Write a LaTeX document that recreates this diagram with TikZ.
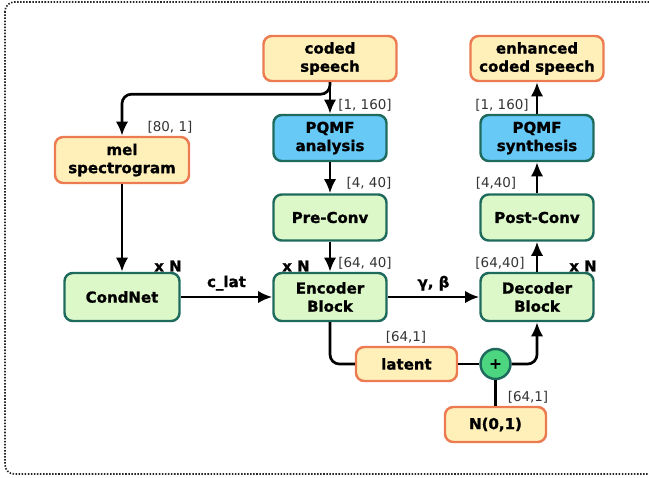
\documentclass[tikz,border=0pt]{standalone}
\usepackage{fontspec}
\setmainfont{DejaVu Sans}[BoldFeatures={FakeBold=1.2}]
\usetikzlibrary{arrows.meta, positioning}
\definecolor{boxyellow}{HTML}{FFF0BA}
\definecolor{boxorange}{HTML}{EC7B52}
\definecolor{boxblue}{HTML}{66C9F6}
\definecolor{boxgreen}{HTML}{DCF8C8}
\definecolor{boxteal}{HTML}{1E6B5E}
\definecolor{plusgreen}{HTML}{4CD680}
\definecolor{dimgray}{HTML}{333333}
\tikzstyle{base} = [rectangle, rounded corners=7pt, line width=2.1pt, align=center,
font=\fontsize{12.8}{15.5}\selectfont\bfseries]
\tikzstyle{data} = [base, draw=boxorange, fill=boxyellow]
\tikzstyle{pqmf} = [base, draw=boxteal, fill=boxblue, minimum width=3.39cm, minimum height=1.38cm]
\tikzstyle{block} = [base, draw=boxteal, fill=boxgreen, minimum width=3.39cm, minimum height=1.38cm]
\tikzstyle{dim} = [text=dimgray, font=\fontsize{11.5}{13}\selectfont]
\tikzstyle{tag} = [font=\fontsize{12.8}{15.5}\selectfont\bfseries]
\tikzstyle{arrow} = [-{Latex[length=12pt,width=10.5pt]}, line width=2.3pt]
\tikzstyle{line} = [line width=2.3pt]

\begin{document}
\begin{tikzpicture}[x=0.03cm, y=-0.03cm]

		% canvas and dotted frame
		\useasboundingbox (0,0) rectangle (649,477);
		\draw[black!85, line width=1.4pt, dash pattern=on 1.3pt off 1.3pt, rounded corners=8pt] (5,2) rectangle (664,474);

		% input / output nodes
		\node[data, minimum width=3.99cm, minimum height=1.35cm] (coded) at (330, 58.5) {coded\\speech};
		\node[data, minimum width=3.99cm, minimum height=1.35cm] (enhanced) at (537, 58.5) {enhanced\\coded speech};
		\node[data, minimum width=4.02cm, minimum height=1.38cm] (mel) at (122, 160) {mel\\spectrogram};

		% PQMF nodes
		\node[pqmf] (analysis) at (330, 138) {PQMF\\analysis};
		\node[pqmf] (synthesis) at (537, 138) {PQMF\\synthesis};

		% conv and block nodes
		\node[block] (preconv) at (330, 217.5) {Pre-Conv};
		\node[block] (postconv) at (537, 217.5) {Post-Conv};
		\node[block, minimum width=3.45cm, minimum height=1.44cm] (condnet) at (122, 297) {CondNet};
		\node[block, minimum height=1.44cm] (encoder) at (330, 297) {Encoder\\Block};
		\node[block, minimum height=1.44cm] (decoder) at (537, 297) {Decoder\\Block};

		% latent path
		\node[data, minimum width=3.03cm, minimum height=1.02cm] (latent) at (406.5, 364) {latent};
		\node[circle, draw=boxteal, fill=plusgreen, line width=2.1pt, minimum size=0.9cm, inner sep=0pt, font=\fontsize{12.8}{15.5}\selectfont\bfseries] (plus) at (495.5, 364) {+};
		\node[data, minimum width=3.03cm, minimum height=1.05cm] (noise) at (495.5, 424.5) {N(0,1)};

		% shape labels
		\node[dim] (d1) at (170, 127) {[80, 1]};
		\node[dim] (d2) at (365, 105) {[1, 160]};
		\node[dim] (d3) at (369, 183) {[4, 40]};
		\node[dim] (d4) at (365, 263) {[64, 40]};
		\node[dim] (d5) at (502, 105) {[1, 160]};
		\node[dim] (d6) at (496, 183) {[4,40]};
		\node[dim] (d7) at (500, 263) {[64,40]};
		\node[dim] (d8) at (406, 337) {[64,1]};
		\node[dim] (d9) at (528, 397) {[64,1]};

		% repeat labels
		\node[tag] (n1) at (168, 266) {x N};
		\node[tag] (n2) at (296, 266) {x N};
		\node[tag] (n3) at (583, 266) {x N};

		% connections
		\draw[arrow] (coded) -- (analysis);
		\draw[arrow, rounded corners=8pt] (coded.south) -- ++(0,12) -| (mel.north);
		\draw[arrow] (mel) -- (condnet);
		\draw[arrow] (analysis) -- (preconv);
		\draw[arrow] (preconv) -- (encoder);
		\draw[arrow] (condnet) -- node[tag, above, yshift=1pt] {c\_lat} (encoder);
		\draw[arrow] (encoder) -- node[tag, above, yshift=1pt] {γ, β} (decoder);
		\draw[arrow] (decoder) -- (postconv);
		\draw[arrow] (postconv) -- (synthesis);
		\draw[arrow] (synthesis) -- (enhanced);
		\draw[line, rounded corners=8pt] (encoder.south) |- (latent.west);
		\draw[line] (latent) -- (plus);
		\draw[arrow, rounded corners=8pt] (plus.east) -| (decoder.south);
		\draw[line] (noise) -- (plus);

\end{tikzpicture}
\end{document}
